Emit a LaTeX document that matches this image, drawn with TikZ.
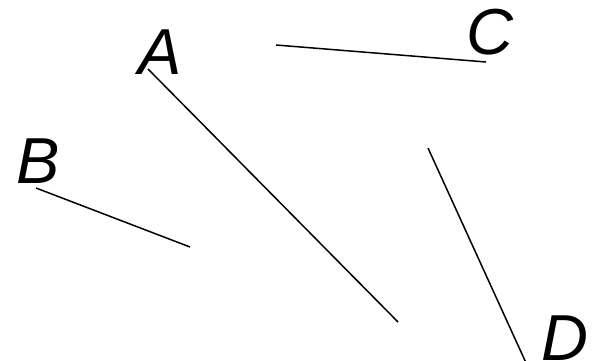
\documentclass[tikz,border=0pt]{standalone}
\usepackage{fontspec}
\setmainfont{Liberation Sans}
\usepackage{tikz}

\begin{document}
\begin{tikzpicture}[x=1pt,y=-1pt,line width=1.5pt,
  lbl/.style={inner sep=0pt,font=\fontsize{65}{65}\selectfont\itshape}]
\useasboundingbox (0,0) rectangle (594,361);
% 各线段端点
\coordinate (A1) at (148,69);
\coordinate (A2) at (398,322);
\coordinate (B1) at (36,188);
\coordinate (B2) at (190,247);
\coordinate (C1) at (276,45);
\coordinate (C2) at (486,62);
\coordinate (D1) at (428,148);
\coordinate (D2) at (527,365);
% 字母
\node[lbl] (A) at (160,52) {A};
\node[lbl] (B) at (38,161) {B};
\node[lbl] (C) at (490,32) {C};
\node[lbl] (D) at (565,338) {D};
\draw (A1)--(A2);
\draw (B1)--(B2);
\draw (C1)--(C2);
\draw (D1)--(D2);
\end{tikzpicture}
\end{document}
